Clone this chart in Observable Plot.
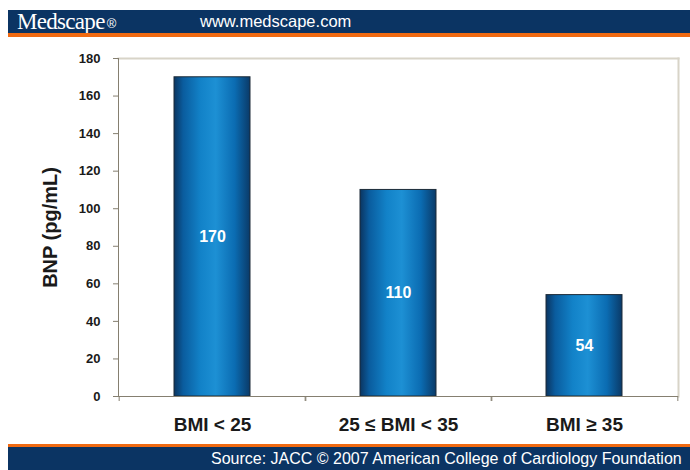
<!DOCTYPE html>
<html>
<head>
<meta charset="utf-8">
<script src="https://cdn.jsdelivr.net/npm/d3@7"></script>
<script src="https://cdn.jsdelivr.net/npm/@observablehq/plot@0.6"></script>
<style>
  body { margin: 0; background: #ffffff; }
  #wrap { position: relative; width: 690px; height: 470px; overflow: hidden; font-family: Arial, "Liberation Sans", Helvetica, sans-serif; }
  .band { position: absolute; left: 8px; width: 682px; height: 23px; background: #0b3463; color: #ffffff; white-space: nowrap; overflow: hidden; }
  #header { top: 10px; border-bottom: 4px solid #f06a12; }
  #footer { top: 444px; border-top: 3px solid #f06a12; }
  .brand { position: absolute; left: 9px; top: 0; line-height: 23px; font-family: "Liberation Serif", "Times New Roman", serif; font-size: 23px; letter-spacing: -0.7px; }
  .brand sup { font-family: Arial, "Liberation Sans", sans-serif; font-size: 13px; letter-spacing: 0; vertical-align: 1px; margin-left: 2px; }
  .site { position: absolute; left: 192px; top: 0; line-height: 23px; font-size: 16.5px; }
  .source { position: absolute; left: 203px; top: 0; line-height: 23px; font-size: 16px; }
  #chart { position: absolute; left: 0; top: 37px; }
</style>
</head>
<body>
<div id="wrap">
  <div id="header" class="band"><span class="brand">Medscape<sup>®</sup></span><span class="site">www.medscape.com</span></div>
  <div id="chart"></div>
  <div id="footer" class="band"><span class="source">Source: JACC © 2007 American College of Cardiology Foundation</span></div>
</div>
<script>
// BNP concentration by BMI group
const categories = ["BMI < 25", "25 ≤ BMI < 35", "BMI ≥ 35"];
const bnp = [170, 110, 54];
const yTicks = [0, 20, 40, 60, 80, 100, 120, 140, 160, 180];
const yLabel = "BNP (pg/mL)";

const data = categories.map((category, i) => ({category, bnp: bnp[i]}));

const W = 690, H = 408;
const mL = 118, mR = 12, mT = 21, mB = 49;
const step = (W - mL - mR) / categories.length;
const axisColor = "#857f70";

// Horizontal shading that gives the bars their rounded look
function barGradient() {
  const ns = "http://www.w3.org/2000/svg";
  const defs = document.createElementNS(ns, "defs");
  const g = document.createElementNS(ns, "linearGradient");
  g.setAttribute("id", "bnpBar");
  g.setAttribute("x1", "0"); g.setAttribute("x2", "1");
  g.setAttribute("y1", "0"); g.setAttribute("y2", "0");
  [[0, "#0b3560"], [0.12, "#0a5c9e"], [0.35, "#1282c8"], [0.55, "#1d90d4"], [0.8, "#0b6cb2"], [1, "#0a3a68"]]
    .forEach(([o, c]) => {
      const s = document.createElementNS(ns, "stop");
      s.setAttribute("offset", o);
      s.setAttribute("stop-color", c);
      g.appendChild(s);
    });
  defs.appendChild(g);
  return defs;
}

const chart = Plot.plot({
  width: W,
  height: H,
  marginLeft: mL,
  marginRight: mR,
  marginTop: mT,
  marginBottom: mB,
  style: {fontFamily: "Arial, 'Liberation Sans', Helvetica, sans-serif", background: "transparent", color: "#1a1a1a"},
  x: {domain: categories, paddingInner: 0.593, paddingOuter: 0.2965, axis: null},
  y: {domain: [0, 180], axis: null},
  marks: [
    barGradient,
    Plot.frame({anchor: "top", stroke: "#d8d4c8", strokeWidth: 2}),
    Plot.frame({anchor: "right", stroke: "#d8d4c8", strokeWidth: 2}),
    Plot.barY(data, {x: "category", y: "bnp", fill: "url(#bnpBar)", stroke: "#1d2b38", strokeWidth: 1}),
    Plot.ruleY([0], {stroke: axisColor}),
    Plot.frame({anchor: "left", stroke: axisColor}),
    Plot.axisY({ticks: yTicks, tickSize: 5, tickPadding: 13, fontSize: 13, fontWeight: "bold", stroke: axisColor, label: null}),
    // tick marks sit on the boundaries between groups
    Plot.axisX({tickSize: 5, dx: -step / 2, tickFormat: () => "", stroke: axisColor, label: null}),
    Plot.axisX({tickSize: 5, dx: step / 2, tickFormat: () => "", stroke: axisColor, label: null}),
    Plot.axisX({tickSize: 0, tickPadding: 21, fontSize: 19, fontWeight: "bold", label: null}),
    Plot.text(data, {x: "category", y: d => d.bnp / 2, text: d => String(d.bnp), fill: "white", fontSize: 16, fontWeight: "bold"}),
    Plot.text([yLabel], {frameAnchor: "left", textAnchor: "middle", rotate: -90, dx: -68, fontSize: 20, fontWeight: "bold", fill: "#1a1a1a"})
  ]
});

document.getElementById("chart").appendChild(chart);
</script>
</body>
</html>
